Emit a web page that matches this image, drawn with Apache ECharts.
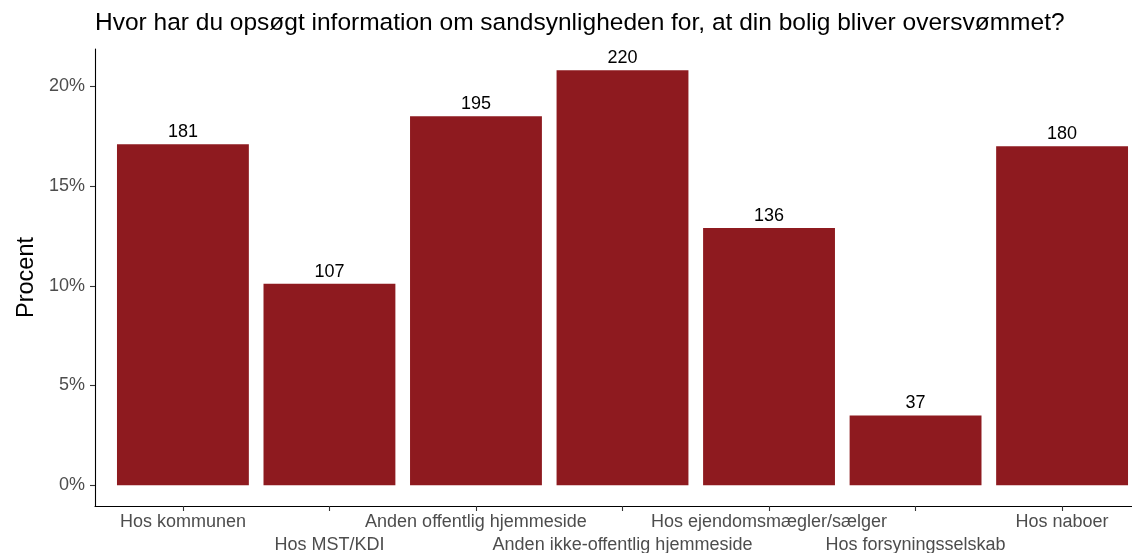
<!DOCTYPE html>
<html>
<head>
<meta charset="utf-8">
<script src="https://cdn.jsdelivr.net/npm/echarts@6/dist/echarts.min.js"></script>
<style>
  html, body { margin: 0; padding: 0; background: #fff; overflow: hidden; }
  #chart { width: 1132px; height: 553px; }
</style>
</head>
<body>
<div id="chart"></div>
<script>
const categories = [
  "Hos kommunen",
  "Hos MST/KDI",
  "Anden offentlig hjemmeside",
  "Anden ikke-offentlig hjemmeside",
  "Hos ejendomsmægler/sælger",
  "Hos forsyningsselskab",
  "Hos naboer"
];
const percentValues = [17.1, 10.1, 18.5, 20.8, 12.9, 3.5, 17.0];
const countLabels = [181, 107, 195, 220, 136, 37, 180];
const yTicks = [0, 5, 10, 15, 20];
const positions = [1, 2, 3, 4, 5, 6, 7];

const chart = echarts.init(document.getElementById("chart"));
const font = "Liberation Sans, Arial, sans-serif";

chart.setOption({
  animation: false,
  textStyle: { fontFamily: font },
  title: {
    text: "Hvor har du opsøgt information om sandsynligheden for, at din bolig bliver oversvømmet?",
    left: 95,
    top: 11,
    padding: 0,
    textStyle: { fontFamily: font, fontSize: 24.5, fontWeight: "normal", color: "#000" }
  },
  grid: { left: 95, right: -18, top: 49, bottom: 47, containLabel: false, outerBoundsMode: "none" },
  xAxis: {
    type: "value",
    min: 0.4,
    max: 7.6,
    splitLine: { show: false },
    axisLine: { show: true, onZero: false, lineStyle: { color: "#000", width: 1.1 } },
    axisTick: { show: true, length: 5, lineStyle: { color: "#333", width: 1.1 }, customValues: positions },
    axisLabel: {
      customValues: positions,
      margin: 5,
      fontSize: 18,
      lineHeight: 23,
      color: "#4D4D4D",
      fontFamily: font,
      formatter: function (v) {
        const i = Math.round(v) - 1;
        return (i % 2 === 1 ? "\n" : "") + categories[i];
      }
    }
  },
  yAxis: {
    type: "value",
    min: -1.04,
    max: 21.87,
    name: "Procent",
    nameLocation: "middle",
    nameRotate: 90,
    nameGap: 42,
    nameTextStyle: { fontSize: 23.5, color: "#000", fontFamily: font },
    splitLine: { show: false },
    axisLine: { show: true, onZero: false, lineStyle: { color: "#000", width: 1.1 } },
    axisTick: { show: true, length: 5, lineStyle: { color: "#333", width: 1.1 }, customValues: yTicks },
    axisLabel: {
      customValues: yTicks,
      margin: 10,
      fontSize: 18,
      color: "#4D4D4D",
      fontFamily: font,
      formatter: function (v) { return v + "%"; }
    }
  },
  series: [
    {
      type: "bar",
      barWidth: "90%",
      data: percentValues.map(function (v, i) { return [positions[i], v]; }),
      itemStyle: { color: "#8E1A1F" },
      label: {
        show: true,
        position: "top",
        distance: 3,
        fontSize: 18,
        color: "#000",
        fontFamily: font,
        formatter: function (p) { return String(countLabels[p.dataIndex]); }
      }
    }
  ]
});
</script>
</body>
</html>
